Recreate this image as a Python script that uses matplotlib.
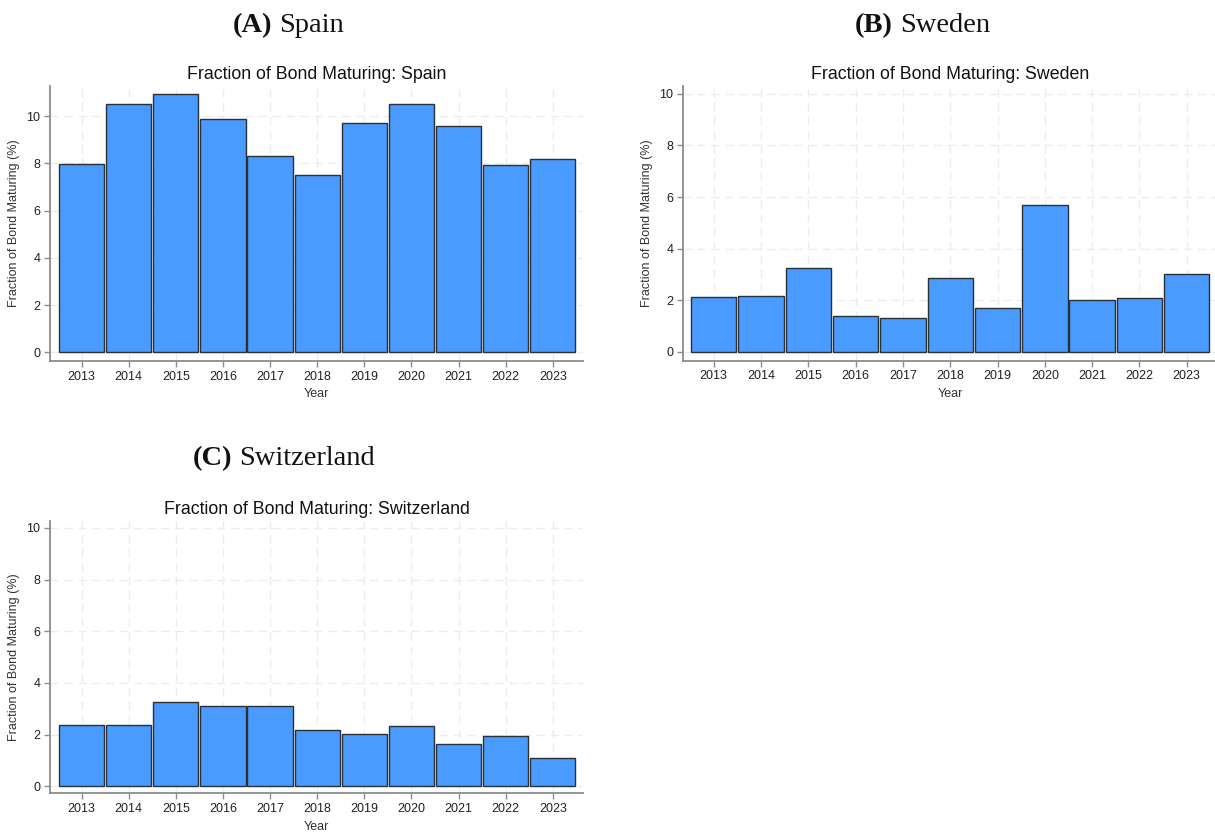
import matplotlib
matplotlib.use("Agg")
import matplotlib.pyplot as plt

years = [2013, 2014, 2015, 2016, 2017, 2018, 2019, 2020, 2021, 2022, 2023]
spain = [7.95, 10.52, 10.92, 9.89, 8.31, 7.51, 9.70, 10.52, 9.58, 7.92, 8.16]
sweden = [2.14, 2.18, 3.24, 1.41, 1.33, 2.88, 1.72, 5.68, 2.01, 2.10, 3.00]
switzerland = [2.38, 2.37, 3.27, 3.09, 3.12, 2.17, 2.01, 2.32, 1.65, 1.93, 1.08]
yticks = [0, 2, 4, 6, 8, 10]

W, H = 1215, 834
plt.rcParams["font.family"] = ["Liberation Sans", "DejaVu Sans"]

fig = plt.figure(figsize=(W / 100, H / 100), dpi=100)
fig.patch.set_facecolor("white")


def px_axes(left, top, right, bottom):
    return fig.add_axes([left / W, 1 - bottom / H, (right - left) / W, (bottom - top) / H])


def draw_panel(ax, values, country, ylim, xlim):
    ax.bar(years, values, width=0.96, color="#4a9bff", edgecolor="#2b2f36",
           linewidth=1.0, zorder=3)
    ax.set_xlim(*xlim)
    ax.set_ylim(*ylim)
    ax.set_xticks(years)
    ax.set_xticklabels([str(y) for y in years])
    ax.set_yticks(yticks)
    ax.grid(True, color="#ececec", linestyle=(0, (6, 4)), linewidth=1.0, zorder=0)
    for s in ("top", "right"):
        ax.spines[s].set_visible(False)
    for s in ("left", "bottom"):
        ax.spines[s].set_color("#8c8c8c")
        ax.spines[s].set_linewidth(1.3)
    ax.tick_params(axis="both", length=4, width=1.0, color="#8c8c8c",
                   labelsize=9, labelcolor="#222222", pad=3)
    ax.set_xlabel("Year", fontsize=9, color="#333333", labelpad=4)
    ax.set_ylabel("Fraction of Bond Maturing (%)", fontsize=9, color="#333333", labelpad=4.5)
    ax.set_title(f"Fraction of Bond Maturing: {country}", fontsize=12.8, color="#111111", pad=5)


ax_a = px_axes(50, 86, 583, 361)
draw_panel(ax_a, spain, "Spain", (-0.37, 11.27), (2012.33, 2023.64))

ax_b = px_axes(683, 86, 1217, 360.7)
draw_panel(ax_b, sweden, "Sweden", (-0.34, 10.3), (2012.35, 2023.64))

ax_c = px_axes(50, 520.7, 583, 793.3)
draw_panel(ax_c, switzerland, "Switzerland", (-0.27, 10.28), (2012.33, 2023.64))


def panel_label(letter, name, x_split, y_base):
    serif = ["Liberation Serif", "DejaVu Serif"]
    fig.text(x_split / W, 1 - y_base / H, f"({letter})", family=serif, fontsize=20.5,
             fontweight="bold", ha="right", va="baseline", color="#111111")
    fig.text((x_split + 7) / W, 1 - y_base / H, name, family=serif, fontsize=20.5,
             ha="left", va="baseline", color="#111111")


panel_label("A", "Spain", 272, 32)
panel_label("B", "Sweden", 893, 32)
panel_label("C", "Switzerland", 232, 465)

fig.savefig("out.png", dpi=100, facecolor="white")
